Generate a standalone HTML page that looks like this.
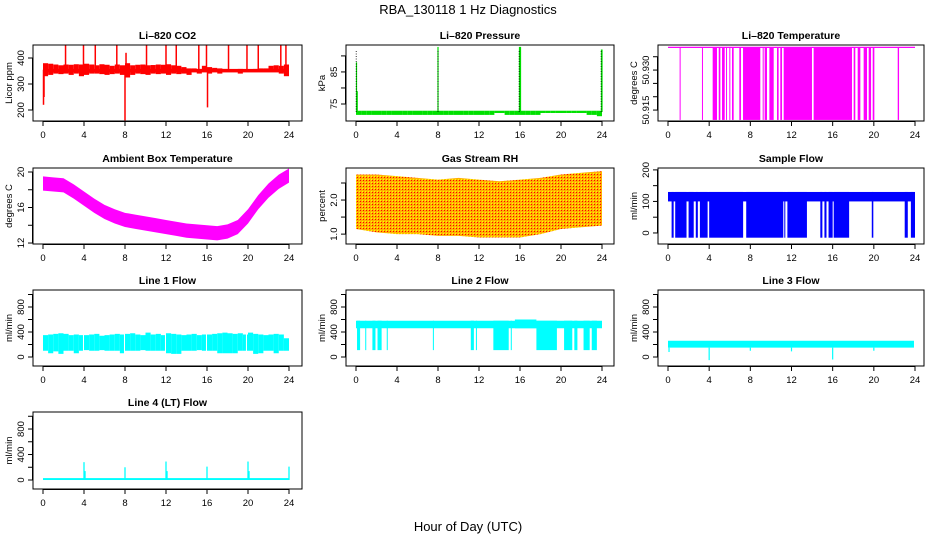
<!DOCTYPE html>
<html><head><meta charset="utf-8"><style>
body{margin:0;background:#fff}
svg{display:block;font-family:"Liberation Sans",sans-serif}
</style></head><body>
<svg id="c" width="936" height="540" viewBox="0 0 936 540">
<defs>
<pattern id="rh" width="3" height="3" patternUnits="userSpaceOnUse"><rect width="3" height="3" fill="#ffb000"/><rect width="1" height="1" fill="#ff0000"/><rect x="2" y="2" width="1" height="1" fill="#ffff00"/></pattern>
</defs>
<text x="468" y="14" text-anchor="middle" font-size="13">RBA_130118  1 Hz Diagnostics</text>
<text x="468" y="531" text-anchor="middle" font-size="13">Hour of Day (UTC)</text>
</svg>
<script>
// ---- data ----
const hourTicks=[0,4,8,12,16,20,24];
const co2Low=[330,335,340,338,340,335,340,330,335,340,340,338,335,338,340,335,325,335,340,338,335,340,338,340,335,340,338,340,335,345,340,345,340,345,340,345,345,345,340,345,345,345,345,345,345,345,340,330];
const co2High=[380,378,375,372,375,374,376,375,378,375,372,376,374,370,375,372,380,372,374,375,372,373,375,374,376,372,370,365,360,360,358,370,365,362,360,358,356,356,358,356,356,358,360,360,370,372,370,375];
const co2SpikeHours=[0.05,0.1,2.2,3.95,5.1,7.2,8.0,8.1,10.1,12.0,13.0,15.2,15.95,16.05,18.1,19.9,21.0,23.2,23.7];
const co2SpikeVals=[220,250,450,452,450,450,160,420,450,450,450,450,450,210,450,452,450,450,450];
const presLow=[71.6,71.6,71.6,71.6,71.6,71.6,71.6,71.6,71.6,71.6,71.6,71.6,71.6,71.6,71.6,71.6,71.6,71.6,71.6,71.6,71.6,71.6,71.6,71.6,71.6,71.6,71.6,72.2,72.2,71.6,71.6,71.6,71.6,71.6,71.6,71.6,72.2,72.2,72.2,72.2,72.2,72.2,72.2,72.2,72.2,71.6,71.6,71.2];
const presHigh=Array(48).fill(72.9);
const presSpikeHours=[0.05,0.12,8.0,15.95,16.0,16.05,23.95,24.0];
const presSpikeVals=[88,79,92.8,92.8,92.8,92.8,92,92];
const tempSegStart=[1.13,3.30,4.34,4.93,5.25,5.64,5.96,6.22,6.93,7.29,9.20,9.39,9.85,10.59,10.91,11.24,14.15,18.04,18.43,19.01,19.5,19.89,22.32];
const tempSegEnd=[1.2,3.36,4.76,5.09,5.51,5.73,6.02,6.38,7.09,8.97,9.26,9.62,10.27,10.75,11.08,13.99,17.88,18.2,18.69,19.34,19.73,20.05,22.45];
const tempTop=50.9385, tempBottom=50.9113;
const ambHours=[0,1,2,3,4,5,6,7,8,9,10,11,12,13,14,15,16,17,18,19,20,21,22,23,24];
const ambMid=[18.7,18.6,18.5,17.8,17.0,16.2,15.5,15.0,14.6,14.4,14.2,14.0,13.8,13.6,13.4,13.3,13.2,13.1,13.3,13.8,15.0,16.6,17.9,18.9,19.6];
const rhHours=[0,2,4,6,8,10,12,14,16,18,20,22,24];
const rhLow=[1.15,1.05,1.0,1.0,0.95,0.95,0.9,0.9,0.9,1.0,1.15,1.2,1.25];
const rhHigh=[2.75,2.75,2.7,2.65,2.6,2.65,2.6,2.55,2.6,2.65,2.75,2.8,2.85];
const sfSegStart=[0.35,0.7,2.0,2.7,3.1,4.0,7.6,11.3,11.6,14.8,15.2,15.6,16.1,19.8,23.0,23.6];
const sfSegEnd=[0.55,1.8,2.5,2.9,3.85,7.3,11.2,11.4,13.5,15.0,15.4,16.0,17.6,19.95,23.3,24.0];
const sfBandLow=100, sfBandHigh=130, sfMin=-15;
const l1Low=[100,60,90,50,100,100,60,100,110,100,100,110,100,100,100,60,100,100,100,110,100,100,100,100,60,50,50,100,100,100,110,100,100,100,60,60,60,60,100,100,100,50,60,100,100,60,100,100];
const l1High=[350,360,370,380,370,350,360,350,350,360,370,340,350,360,370,360,370,380,360,350,390,360,370,350,380,370,360,350,360,370,350,360,360,370,380,390,380,370,380,360,390,370,360,350,360,370,360,300];
const l1GapHours=[3.9,7.9,11.9,15.9,19.8];
const l2SegStart=[0.1,0.9,1.6,2.1,3.0,7.5,11.2,11.7,13.4,15.1,17.6,20.3,21.3,22.2,23.0];
const l2SegEnd=[0.4,1.0,1.9,2.5,3.1,7.6,11.5,11.8,14.9,15.2,19.6,21.1,21.6,22.8,23.5];
const l2Low=460, l2High=580, l2Min=110;
const l3SpikeHours=[0.1,4.0,8.0,12.0,16.0,20.0];
const l3SpikeVals=[80,-50,100,90,-40,100];
const l3Low=150, l3High=260;
const l4SpikeHours=[4.0,4.1,8.0,12.0,12.1,16.0,20.0,20.1,24.0];
const l4SpikeVals=[280,140,200,290,140,210,290,140,210];
const l4Low=0, l4High=30;

// ---- layout ----
const svg=document.getElementById('c');
const NS='http://www.w3.org/2000/svg';
function el(t,a,p){const e=document.createElementNS(NS,t);for(const k in a)e.setAttribute(k,a[k]);(p||svg).appendChild(e);return e;}
const cols=[{x0:33,x1:302,h0:43,h1:289},{x0:346,x1:614,h0:356,h1:602},{x0:658,x1:924,h0:668,h1:915}];
const rows=[{y0:45,y1:121},{y0:168,y1:244},{y0:290,y1:366},{y0:412,y1:489}];
function panel(name,title,ylab,r,c,ymin,ymax,ticks,labTicks,fmt){
  const g=el('g',{});
  
  
  const R=rows[r],C=cols[c];
  const X=h=>C.h0+(h/24)*(C.h1-C.h0);
  const Y=v=>R.y1-(v-ymin)/(ymax-ymin)*(R.y1-R.y0);
  const plot=el('g',{},g);
  const cp=el('clipPath',{id:'cp'+name},g);el('rect',{x:C.x0,y:R.y0,width:C.x1-C.x0,height:R.y1-R.y0},cp);
  plot.setAttribute('clip-path','url(#cp'+name+')');
  const t=el('text',{x:(C.x0+C.x1)/2,y:R.y0-6,'text-anchor':'middle','font-size':10.5,'font-weight':'bold'},g);t.textContent=title;
  
  
  el('rect',{x:C.x0,y:R.y0,width:C.x1-C.x0,height:R.y1-R.y0,fill:'none',stroke:'#000','stroke-width':1},g);
  el('line',{x1:X(0),x2:X(24),y1:R.y1+0.5,y2:R.y1+0.5,stroke:'#000'},g);
  hourTicks.forEach(h=>{el('line',{x1:X(h),x2:X(h),y1:R.y1,y2:R.y1+5,stroke:'#000'},g);
    const l=el('text',{x:X(h),y:R.y1+17,'text-anchor':'middle','font-size':9.5},g);l.textContent=h;
    
    });
  el('line',{x1:C.x0-0.5,x2:C.x0-0.5,y1:Y(ticks[0]),y2:Y(ticks[ticks.length-1]),stroke:'#000'},g);
  ticks.forEach(v=>{el('line',{x1:C.x0-5,x2:C.x0,y1:Y(v),y2:Y(v),stroke:'#000'},g);});
  labTicks.forEach(v=>{const l=el('text',{x:0,y:0,'text-anchor':'middle','font-size':9.5,transform:`translate(${C.x0-9},${Y(v)}) rotate(-90)`},g);l.textContent=fmt?fmt(v):v;
    
    });
  const yl=el('text',{x:0,y:0,'text-anchor':'middle','font-size':9.5,transform:`translate(${C.x0-21},${(R.y0+R.y1)/2}) rotate(-90)`},g);yl.textContent=ylab;
  
  
  return {g:plot,X,Y};
}
function vbar(p,h0,h1,lo,hi,fill,nm){const x0=p.X(h0),x1=p.X(h1);const y0=p.Y(hi),y1=p.Y(lo);
  const e=el('rect',{x:x0,y:y0,width:Math.max(1,x1-x0),height:Math.max(1,y1-y0),fill:fill},p.g);
  
  return e;}
function spike(p,h,base,v,col,nm,w,dash){const e=el('line',{x1:p.X(h),x2:p.X(h),y1:p.Y(base),y2:p.Y(v),stroke:col,'stroke-width':w||1},p.g);
  if(dash)e.setAttribute('stroke-dasharray',dash);
  
  }

// CO2
let p=panel('co2','Li\u2013820 CO2','Licor ppm',0,0,157.7,450,[200,300,400],[200,300,400]);
co2Low.forEach((lo,i)=>vbar(p,i*0.5,i*0.5+0.5,lo,co2High[i],'#ff0000','co2-band'));
vbar(p,0,24,345,358,'#ff0000','co2-core');
co2SpikeHours.forEach((h,i)=>spike(p,h,355,co2SpikeVals[i],'#ff0000','co2-spike',1.5));
// Pressure
p=panel('pressure','Li\u2013820 Pressure','kPa',0,1,69.7,93.4,[75,80,85,90],[75,85]);
presLow.forEach((lo,i)=>vbar(p,i*0.5,i*0.5+0.5,lo,presHigh[i],'#00e000','pressure-band'));
presSpikeHours.forEach((h,i)=>spike(p,h,72.5,presSpikeVals[i],'#00dd00','pressure-spike',1.2));
[0.02,8.0,15.92,23.92].forEach(h=>spike(p,h,72.5,92,'#000','pressure-dotted',0.8,'1,1.5'));
// Temperature
p=panel('li820-temp','Li\u2013820 Temperature','degrees C',0,2,50.9109,50.9394,[50.915,50.92,50.925,50.93,50.935],[50.915,50.930],v=>v.toFixed(3));
el('line',{x1:p.X(0),x2:p.X(24),y1:p.Y(tempTop),y2:p.Y(tempTop),stroke:'#ff00ff','stroke-width':1.2},p.g);
tempSegStart.forEach((s,i)=>vbar(p,s,tempSegEnd[i],tempBottom,tempTop,'#ff00ff','temp-segment'));
// Ambient
p=panel('ambient','Ambient Box Temperature','degrees C',1,0,11.89,20.45,[12,14,16,18,20],[12,16,20]);
{let up=ambHours.map((h,i)=>p.X(h)+','+p.Y(ambMid[i]+0.8)).join(' ');
 let dn=ambHours.map((h,i)=>p.X(h)+','+p.Y(ambMid[i]-0.8)).reverse().join(' ');
 const e=el('polygon',{points:up+' '+dn,fill:'#ff00ff'},p.g);
 
 }
// RH
p=panel('rh','Gas Stream RH','percent',1,1,0.71,2.94,[1.0,1.5,2.0,2.5],[1.0,2.0],v=>v.toFixed(1));
{let up=rhHours.map((h,i)=>p.X(h)+','+p.Y(rhHigh[i])).join(' ');
 let dn=rhHours.map((h,i)=>p.X(h)+','+p.Y(rhLow[i])).reverse().join(' ');
 const e=el('polygon',{points:up+' '+dn,fill:'url(#rh)'},p.g);
 
 }
// Sample flow
p=panel('sample-flow','Sample Flow','ml/min',1,2,-35,206,[0,50,100,150,200],[0,100,200]);
vbar(p,0,23.9,sfBandLow,sfBandHigh,'#0000ff','sample-flow-band');
sfSegStart.forEach((s,i)=>vbar(p,s,sfSegEnd[i],sfMin,sfBandHigh,'#0000ff','sample-flow-segment'));
// Line 1
p=panel('line1','Line 1 Flow','ml/min',2,0,-144,1072,[0,200,400,600,800,1000],[0,400,800]);
l1Low.forEach((lo,i)=>vbar(p,i*0.5,i*0.5+0.5,lo,l1High[i],'#00ffff','line1-band'));
l1GapHours.forEach(h=>vbar(p,h,h+0.1,0,420,'#fff','line1-gap'));
// Line 2
p=panel('line2','Line 2 Flow','ml/min',2,1,-144,1072,[0,200,400,600,800,1000],[0,400,800]);
vbar(p,0,24,l2Low,l2High,'#00ffff','line2-band');
vbar(p,15.5,17.6,l2Low,600,'#00ffff','line2-band-high');
l2SegStart.forEach((s,i)=>vbar(p,s,l2SegEnd[i],l2Min,l2High,'#00ffff','line2-segment'));
// Line 3
p=panel('line3','Line 3 Flow','ml/min',2,2,-144,1072,[0,200,400,600,800,1000],[0,400,800]);
vbar(p,0,23.9,l3Low,l3High,'#00ffff','line3-band');
l3SpikeHours.forEach((h,i)=>spike(p,h,l3Low,l3SpikeVals[i],'#00ffff','line3-spike',1.2));
// Line 4
p=panel('line4','Line 4 (LT) Flow','ml/min',3,0,-141,1067,[0,200,400,600,800,1000],[0,400,800]);
vbar(p,0,24,l4Low,l4High,'#00ffff','line4-band');
l4SpikeHours.forEach((h,i)=>spike(p,h,l4Low,l4SpikeVals[i],'#00ffff','line4-spike',1.3));
</script>
</body></html>
